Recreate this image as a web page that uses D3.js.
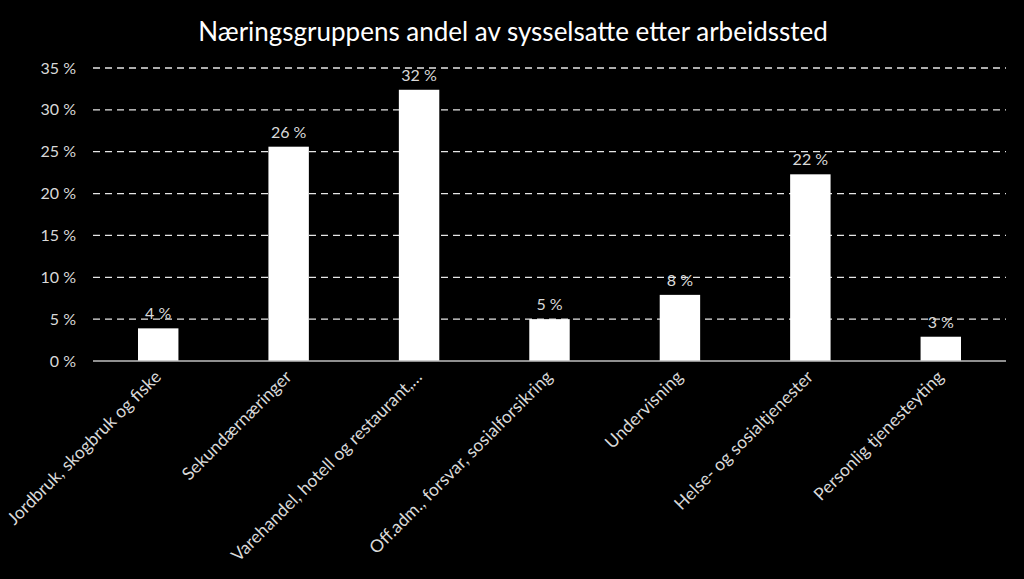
<!DOCTYPE html>
<html><head><meta charset="utf-8">
<script src="https://cdn.jsdelivr.net/npm/d3@7"></script>
<style>
html,body{margin:0;padding:0;background:#000;}
svg{display:block;}
</style></head>
<body>
<svg id="chart" width="1024" height="579"></svg>
<script>
const title = "Næringsgruppens andel av sysselsatte etter arbeidssted";
const categories = ["Jordbruk, skogbruk og fiske","Sekundærnæringer","Varehandel, hotell og restaurant,…","Off.adm., forsvar, sosialforsikring","Undervisning","Helse- og sosialtjenester","Personlig tjenesteyting"];
const values = [3.9, 25.6, 32.4, 5.0, 7.9, 22.3, 2.9];
const valueLabels = ["4 %","26 %","32 %","5 %","8 %","22 %","3 %"];
const yTicks = [0,5,10,15,20,25,30,35];

const W=1024,H=579;
const m={left:93,right:18,top:68,bottom:218};
const svg=d3.select("#chart");
svg.append("rect").attr("width",W).attr("height",H).attr("fill","#000");
const x=d3.scaleBand().domain(categories).range([m.left,W-m.right]).paddingInner(0.69).paddingOuter(0.345);
const y=d3.scaleLinear().domain([0,35]).range([H-m.bottom,m.top]);
const font="Lato, 'Open Sans', sans-serif";

svg.append("text").attr("x",513).attr("y",41).attr("text-anchor","middle")
  .attr("fill","#fff").style("font-family",font).style("font-size","26px").text(title);

const ya=svg.append("g").attr("transform",`translate(${m.left},0)`)
  .call(d3.axisLeft(y).tickValues(yTicks).tickSize(0).tickPadding(17).tickFormat(d=>d+" %"));
ya.select(".domain").remove();
ya.selectAll("text").attr("fill","#d9d9d9").style("font-family",font).style("font-size","16px");

svg.append("g").selectAll("line").data(yTicks.filter(d=>d>0)).join("line")
  .attr("x1",m.left).attr("x2",W-m.right).attr("y1",d=>y(d)).attr("y2",d=>y(d))
  .attr("stroke","#e6e6e6").attr("stroke-width",1.3).attr("stroke-dasharray","7,5");

svg.append("g").selectAll("rect").data(values).join("rect")
  .attr("x",(d,i)=>x(categories[i])).attr("width",x.bandwidth())
  .attr("y",d=>y(d)).attr("height",d=>y(0)-y(d)).attr("fill","#fff");

svg.append("line").attr("x1",m.left).attr("x2",W-m.right).attr("y1",y(0)).attr("y2",y(0))
  .attr("stroke","#bfbfbf").attr("stroke-width",1.3);

svg.append("g").selectAll("text").data(values).join("text")
  .attr("x",(d,i)=>x(categories[i])+x.bandwidth()/2).attr("y",d=>y(d)-9)
  .attr("text-anchor","middle").attr("fill","#d9d9d9").style("font-family",font).style("font-size","16px")
  .text((d,i)=>valueLabels[i]);

const xa=svg.append("g").attr("transform",`translate(0,${y(0)})`)
  .call(d3.axisBottom(x).tickSize(0).tickPadding(0));
xa.select(".domain").remove();
xa.selectAll("text").attr("fill","#d9d9d9").style("font-family",font).style("font-size","17.5px")
  .attr("text-anchor","end").attr("dy",null).attr("y",null)
  .attr("transform","translate(4,17) rotate(-45)");
</script>
</body></html>
